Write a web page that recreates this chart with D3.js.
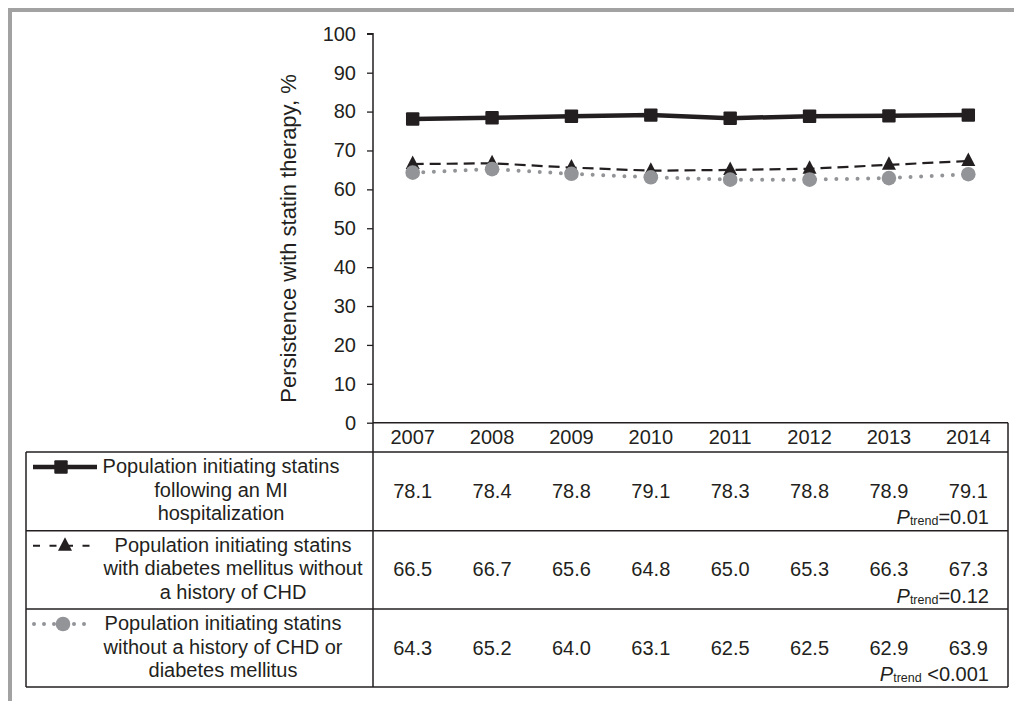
<!DOCTYPE html>
<html>
<head>
<meta charset="utf-8">
<script src="https://cdn.jsdelivr.net/npm/d3@7/dist/d3.min.js"></script>
<style>
  html, body { margin: 0; padding: 0; background: #fff; }
  svg { display: block; font-family: "Liberation Sans", Arial, Helvetica, sans-serif; }
</style>
</head>
<body>
<svg id="chart" width="1014" height="701"></svg>
<script>
// ---- data ----
const years = [2007, 2008, 2009, 2010, 2011, 2012, 2013, 2014];
const miValues = [78.1, 78.4, 78.8, 79.1, 78.3, 78.8, 78.9, 79.1];
const dmValues = [66.5, 66.7, 65.6, 64.8, 65.0, 65.3, 66.3, 67.3];
const noChdValues = [64.3, 65.2, 64.0, 63.1, 62.5, 62.5, 62.9, 63.9];
const yTicks = [0, 10, 20, 30, 40, 50, 60, 70, 80, 90, 100];
const yTitle = "Persistence with statin therapy, %";
const miLabel = ["Population initiating statins", "following an MI", "hospitalization"];
const dmLabel = ["Population initiating statins", "with diabetes mellitus without", "a history of CHD"];
const noChdLabel = ["Population initiating statins", "without a history of CHD or", "diabetes mellitus"];
const pTrends = ["=0.01", "=0.12", " <0.001"];

// ---- layout ----
const ink = "#231f20";
const grey = "#929497";
const plotLeft = 373, plotRight = 1008, plotTop = 33.8, axisY = 422.7;
const tableLeft = 26;
const rowLines = [452, 530.7, 609, 687];

const svg = d3.select("#chart");

const x = d3.scaleBand().domain(years).range([plotLeft, plotRight]);
const y = d3.scaleLinear().domain([0, 100]).range([axisY, plotTop]);
const cx = d => x(d) + x.bandwidth() / 2;

// outer frame
svg.append("path")
  .attr("d", "M10,701 V10 H1014")
  .attr("fill", "none").attr("stroke", "#a2a2a2").attr("stroke-width", 4);

// y axis
const yAxis = svg.append("g")
  .attr("transform", `translate(${plotLeft},0)`)
  .call(d3.axisLeft(y).tickValues(yTicks).tickSize(6).tickPadding(11).tickFormat(d3.format("d")));
yAxis.select(".domain").attr("stroke", ink).attr("stroke-width", 1.5).attr("d", `M-6,${y(100)}H0V${rowLines[3]}`);
yAxis.selectAll(".tick line").attr("stroke", ink).attr("stroke-width", 1.3);
yAxis.selectAll(".tick text").attr("fill", ink).style("font-size", "20px")
  .style("font-family", "'Liberation Sans', Arial, sans-serif");

svg.append("text")
  .attr("transform", `translate(296,${238.5}) rotate(-90)`)
  .attr("text-anchor", "middle")
  .attr("fill", ink)
  .style("font-size", "22px")
  .text(yTitle);

// table grid
const grid = svg.append("g").attr("stroke", ink).attr("stroke-width", 1.5).attr("fill", "none");
grid.append("line").attr("x1", plotLeft).attr("x2", plotRight).attr("y1", axisY).attr("y2", axisY);
rowLines.forEach(ry => grid.append("line").attr("x1", tableLeft).attr("x2", plotRight).attr("y1", ry).attr("y2", ry));
grid.append("line").attr("x1", tableLeft).attr("x2", tableLeft).attr("y1", rowLines[0]).attr("y2", rowLines[3]);
grid.append("line").attr("x1", plotRight).attr("x2", plotRight).attr("y1", axisY).attr("y2", rowLines[3]);

// year header
svg.append("g").selectAll("text").data(years).join("text")
  .attr("x", d => cx(d)).attr("y", 444)
  .attr("text-anchor", "middle").attr("fill", ink).style("font-size", "20px")
  .text(d => d);

// series styles
const series = [
  { values: miValues, label: miLabel, p: pTrends[0], color: ink, width: 4.5, dash: null, cap: "butt", marker: "square", textX: 221 },
  { values: dmValues, label: dmLabel, p: pTrends[1], color: ink, width: 2.2, dash: "11,6", cap: "butt", marker: "triangle", textX: 233 },
  { values: noChdValues, label: noChdLabel, p: pTrends[2], color: grey, width: 4, dash: "0,10.6", cap: "round", marker: "circle", textX: 223 }
];

function drawMarker(g, type, color, px, py) {
  if (type === "square") {
    g.append("rect").attr("x", px - 6.7).attr("y", py - 6.7).attr("width", 13.4).attr("height", 13.4)
      .attr("rx", 1).attr("fill", color);
  } else if (type === "triangle") {
    g.append("path").attr("d", `M${px},${py - 8.5}L${px + 7},${py + 5}L${px - 7},${py + 5}Z`).attr("fill", color);
  } else {
    g.append("circle").attr("cx", px).attr("cy", py).attr("r", 7.3).attr("fill", color);
  }
}

const line = d3.line().x((d, i) => cx(years[i])).y(d => y(d));

series.forEach((s, k) => {
  const g = svg.append("g");
  g.append("path").datum(s.values).attr("d", line)
    .attr("fill", "none").attr("stroke", s.color).attr("stroke-width", s.width)
    .attr("stroke-dasharray", s.dash).attr("stroke-linecap", s.cap);
  s.values.forEach((v, i) => drawMarker(g, s.marker, s.color, cx(years[i]), y(v)));

  // table row
  const rowTop = rowLines[k];
  const row = svg.append("g");
  row.selectAll("text.val").data(s.values).join("text")
    .attr("class", "val")
    .attr("x", (d, i) => cx(years[i])).attr("y", rowTop + 45.5)
    .attr("text-anchor", "middle").attr("fill", ink).style("font-size", "20px")
    .text(d => d3.format(".1f")(d));

  const pt = row.append("text").attr("x", 989).attr("y", rowTop + 72)
    .attr("text-anchor", "end").attr("fill", ink).style("font-size", "20px");
  pt.append("tspan").style("font-style", "italic").text("P");
  pt.append("tspan").style("font-size", "12.5px").attr("dy", 1).text("trend");
  pt.append("tspan").attr("dy", -1).text(s.p);

  // label lines
  s.label.forEach((t, j) => {
    row.append("text").attr("x", s.textX).attr("y", rowTop + 21 + j * 23.5)
      .attr("text-anchor", "middle").attr("fill", ink).style("font-size", "20px").text(t);
  });

  // legend key
  const ky = rowTop + 15;
  const key = row.append("g");
  if (s.marker === "square") {
    key.append("line").attr("x1", 33).attr("x2", 97).attr("y1", ky).attr("y2", ky)
      .attr("stroke", s.color).attr("stroke-width", s.width);
    drawMarker(key, "square", s.color, 61, ky);
  } else if (s.marker === "triangle") {
    key.append("line").attr("x1", 33).attr("x2", 92).attr("y1", ky).attr("y2", ky)
      .attr("stroke", s.color).attr("stroke-width", 2).attr("stroke-dasharray", "7,9.5");
    drawMarker(key, "triangle", s.color, 65, ky);
  } else {
    key.append("line").attr("x1", 34).attr("x2", 92).attr("y1", ky).attr("y2", ky)
      .attr("stroke", s.color).attr("stroke-width", 4).attr("stroke-dasharray", "0,10")
      .attr("stroke-linecap", "round");
    drawMarker(key, "circle", s.color, 63, ky);
  }
});
</script>
</body>
</html>
